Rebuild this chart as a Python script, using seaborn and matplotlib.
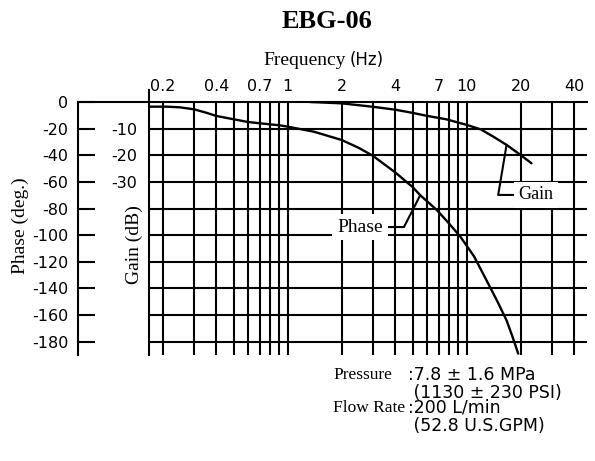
import matplotlib
matplotlib.use('Agg')
import matplotlib.pyplot as plt
import seaborn as sns
from matplotlib.ticker import NullFormatter

# Frequency response of EBG-06
phase_freq = [0.168, 0.21, 0.25, 0.3, 0.35, 0.4, 0.5, 0.6, 0.7, 0.9, 1.0, 1.4, 2.0,
              2.5, 3.0, 4.0, 5.0, 5.5, 6.8, 8.0, 9.2, 11.0, 13.5, 15.0, 16.7, 18.0, 19.4]
phase_deg = [-3.5, -3.5, -4, -5.5, -8, -10.5, -13, -15, -16, -17.5, -18.5, -22.3, -28.5,
             -34.5, -40.5, -53, -64, -70, -81, -91.5, -101, -116, -139, -151, -164, -176, -189]
gain_freq = [1.33, 2, 3, 4, 5, 6, 7.7, 10, 12, 14, 16.7, 20, 23]
gain_db = [0, -0.5, -1.8, -2.9, -4.1, -5.2, -6.5, -8.6, -10.3, -12.9, -16.1, -19.9, -23]

label_freqs = [0.2, 0.4, 0.7, 1, 2, 4, 7, 10, 20, 40]
label_text = ['0.2', '0.4', '0.7', '1', '2', '4', '7', '10', '20', '40']
minor_freqs = [0.3, 0.5, 0.6, 0.8, 0.9, 3, 5, 6, 8, 9, 30]
phase_ticks = [0, -20, -40, -60, -80, -100, -120, -140, -160, -180]
gain_ticks = [-10, -20, -30]

sns.set_theme(style='white')
plt.rcParams['font.family'] = ['DejaVu Sans']
plt.rcParams['axes.unicode_minus'] = False
plt.rcParams['text.color'] = 'black'
serif = 'Liberation Serif'
LW = 1.5

W, H = 595, 461
fig = plt.figure(figsize=(W / 100, H / 100), dpi=100)

def fx(x):
    return x / W

def fy(y):
    return 1 - y / H

ax = fig.add_axes([fx(78), fy(355), (587 - 78) / W, (355 - 102) / H])
ax.set_xscale('log')
ax.set_xlim(0.0674, 47)
ax.set_ylim(-190, 0)

# grid
ax.set_xticks(label_freqs)
ax.set_xticklabels(label_text)
ax.set_xticks(minor_freqs, minor=True)
ax.xaxis.set_minor_formatter(NullFormatter())
ax.xaxis.tick_top()
ax.tick_params(axis='x', which='both', length=0, pad=5.5, labelsize=11.5, colors='black')
ax.grid(which='both', axis='x', color='black', lw=LW)
ax.hlines(phase_ticks[1:], phase_freq[0], 47, color='black', lw=LW)

ax.set_yticks(phase_ticks)
ax.tick_params(axis='y', direction='in', length=12.2, width=LW, pad=7,
               labelsize=11.5, colors='black', left=True)
for side in ['right', 'bottom']:
    ax.spines[side].set_visible(False)
for side in ['left', 'top']:
    ax.spines[side].set_color('black')
    ax.spines[side].set_linewidth(LW)

sns.lineplot(x=phase_freq, y=phase_deg, ax=ax, color='black', lw=1.7, sort=False)
ax.set_xlabel('')
ax.set_ylabel('')

# gain on its own scale (0 to -95 dB over the same height)
ax2 = ax.twinx()
ax2.set_ylim(-95, 0)
sns.lineplot(x=gain_freq, y=gain_db, ax=ax2, color='black', lw=1.7, sort=False)
ax2.set_ylabel('')
for side in ax2.spines:
    ax2.spines[side].set_visible(False)
ax2.spines['left'].set_visible(True)
ax2.spines['left'].set_color('black')
ax2.spines['left'].set_linewidth(LW)
ax2.spines['left'].set_position(('data', phase_freq[0]))
ax2.spines['left'].set_bounds(-95, 4.5)
ax2.yaxis.tick_left()
ax2.set_yticks(gain_ticks)
ax2.tick_params(axis='y', length=0, pad=8.6, labelsize=11.5, colors='black',
                left=True, right=False, labelleft=True, labelright=False)

# curve labels
ax.annotate('Phase', xy=(5.5, -70), xytext=(2.535, -93.9), ha='center', va='center',
            family=serif, fontsize=14, zorder=5,
            bbox=dict(boxstyle='square,pad=0.25', fc='white', ec='none'),
            arrowprops=dict(arrowstyle='-', color='black', lw=LW, shrinkA=0, shrinkB=0,
                            connectionstyle='angle,angleA=0,angleB=63,rad=0'))
ax2.annotate('Gain', xy=(16.7, -16.1), xytext=(24.4, -34.9), ha='center', va='center',
             family=serif, fontsize=13, zorder=5,
             bbox=dict(boxstyle='square,pad=0.25', fc='white', ec='none'),
             arrowprops=dict(arrowstyle='-', color='black', lw=LW, shrinkA=0, shrinkB=0,
                             connectionstyle='angle,angleA=0,angleB=80.5,rad=0'))

# titles and axis names
fig.text(fx(327), fy(28), 'EBG-06', ha='center', va='baseline', family=serif,
         weight='bold', size=19)
fig.text(fx(346), fy(65), 'Frequency', ha='right', va='baseline', family=serif, size=14)
fig.text(fx(350), fy(65), '(Hz)', ha='left', va='baseline', size=12)
fig.text(fx(20), fy(226), 'Phase (deg.)', rotation=90, ha='center', va='center',
         family=serif, size=14)
fig.text(fx(134), fy(245), 'Gain (dB)', rotation=90, ha='center', va='center',
         family=serif, size=14)

# test conditions
fig.text(fx(333), fy(379), 'Pressure', ha='left', va='baseline', family=serif, size=12.5)
fig.text(fx(333), fy(412), 'Flow Rate', ha='left', va='baseline', family=serif, size=12.5)
fig.text(fx(408), fy(366), ':7.8 \u00b1 1.6 MPa\n (1130 \u00b1 230 PSI)', ha='left', va='top',
         size=12.5, linespacing=0.98)
fig.text(fx(408), fy(399), ':200 L/min\n (52.8 U.S.GPM)', ha='left', va='top',
         size=12.5, linespacing=0.98)

fig.savefig('out.png', dpi=100, facecolor='white')
